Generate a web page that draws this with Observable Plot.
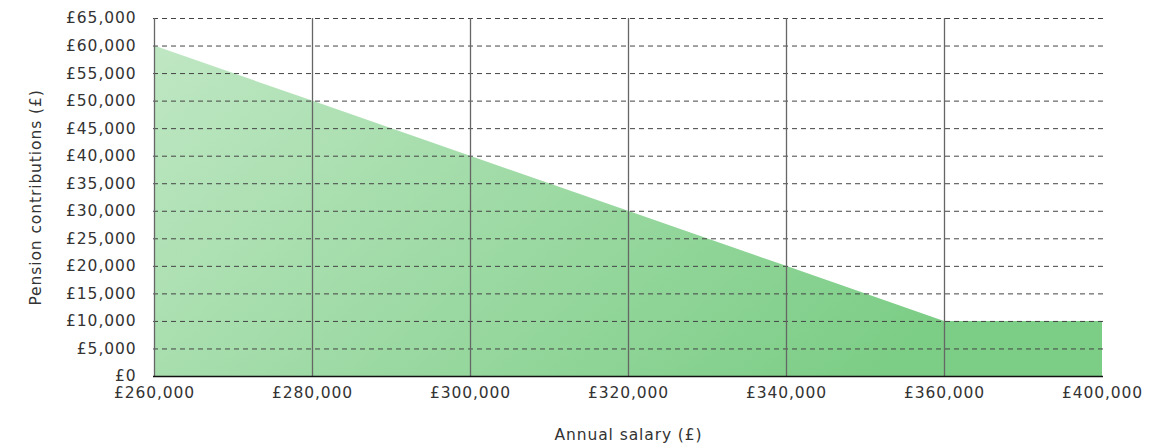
<!DOCTYPE html>
<html>
<head>
<meta charset="utf-8">
<script src="https://cdn.jsdelivr.net/npm/d3@7"></script>
<script src="https://cdn.jsdelivr.net/npm/@observablehq/plot@0.6"></script>
<style>
  html, body { margin: 0; padding: 0; background: #fff; }
  #chart svg { display: block; }
</style>
</head>
<body>
<div id="chart"></div>
<script>
const salaries = [260000, 280000, 300000, 320000, 340000, 360000, 400000];
const contributions = [60000, 50000, 40000, 30000, 20000, 10000, 10000];
const yTicks = [0, 5000, 10000, 15000, 20000, 25000, 30000, 35000, 40000, 45000, 50000, 55000, 60000, 65000];

const data = salaries.map((s, i) => ({salary: s, value: contributions[i]}));
const fmt = d => "£" + d3.format(",")(d);

const plot = Plot.plot({
  width: 1151,
  height: 443,
  marginLeft: 153,
  marginRight: 48,
  marginTop: 18,
  marginBottom: 67,
  style: {fontFamily: "'DejaVu Sans', sans-serif", fontSize: "15.5px", color: "#333", letterSpacing: "0.9px"},
  x: {type: "point", domain: salaries, padding: 0},
  y: {domain: [0, 65000]},
  marks: [
    Plot.areaY(data, {x: "salary", y: "value", fill: "url(#pensionGrad)"}),
    Plot.ruleY(yTicks.filter(d => d > 0), {stroke: "#444", strokeWidth: 1, strokeDasharray: "5,4"}),
    Plot.ruleX(salaries.slice(0, -1), {stroke: "#666", strokeWidth: 1.3}),
    Plot.ruleY([0], {stroke: "#111", strokeWidth: 1.5}),
    Plot.axisY(yTicks, {tickSize: 0, tickPadding: 17, tickFormat: fmt, fill: "#333",
      label: "Pension contributions (£)", labelAnchor: "center", labelArrow: "none", labelOffset: 124}),
    Plot.axisX(salaries, {tickSize: 0, tickPadding: 10, tickFormat: fmt, fill: "#333",
      label: "Annual salary (£)", labelAnchor: "center", labelArrow: "none", labelOffset: 63})
  ]
});

const svg = d3.select(plot);
const defs = svg.insert("defs", ":first-child");
const grad = defs.append("linearGradient")
  .attr("id", "pensionGrad")
  .attr("x1", "0").attr("y1", "0").attr("x2", "1").attr("y2", "0.4");
grad.append("stop").attr("offset", "0%").attr("stop-color", "#bfe7c3");
grad.append("stop").attr("offset", "100%").attr("stop-color", "#7ccd86");

document.getElementById("chart").appendChild(plot);
</script>
</body>
</html>
